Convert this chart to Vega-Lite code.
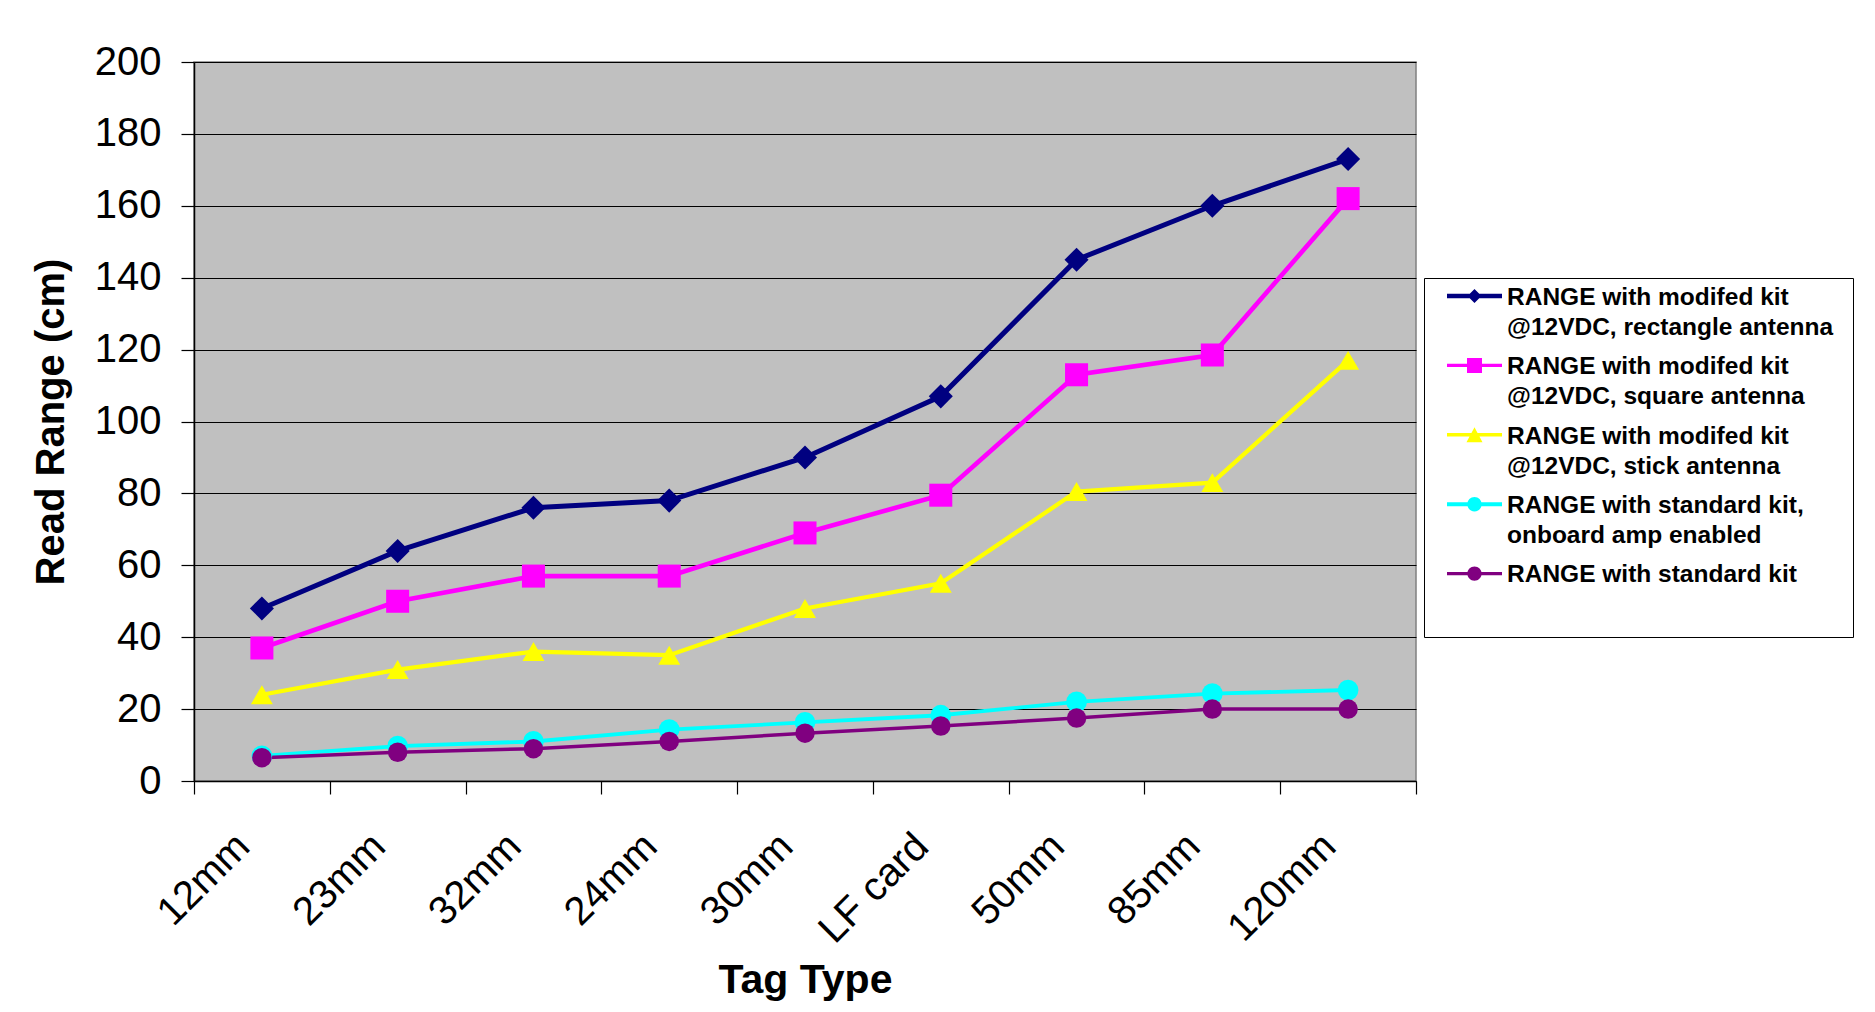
{
  "$schema": "https://vega.github.io/schema/vega-lite/v6.json",
  "width": 1222,
  "height": 719,
  "autosize": "none",
  "padding": {"left": 194, "top": 62, "right": 459, "bottom": 231},
  "background": "white",
  "config": {
    "font": "Liberation Sans",
    "view": {"fill": "#C0C0C0", "stroke": "#808080", "strokeWidth": 1.5},
    "style": {"guide-label": {"lineHeight": 30}}
  },
  "data": {
    "values": [
      {"tag": "12mm", "series": "RANGE with modifed kit\n@12VDC, rectangle antenna", "value": 48},
      {"tag": "23mm", "series": "RANGE with modifed kit\n@12VDC, rectangle antenna", "value": 64},
      {"tag": "32mm", "series": "RANGE with modifed kit\n@12VDC, rectangle antenna", "value": 76},
      {"tag": "24mm", "series": "RANGE with modifed kit\n@12VDC, rectangle antenna", "value": 78},
      {"tag": "30mm", "series": "RANGE with modifed kit\n@12VDC, rectangle antenna", "value": 90},
      {"tag": "LF card", "series": "RANGE with modifed kit\n@12VDC, rectangle antenna", "value": 107},
      {"tag": "50mm", "series": "RANGE with modifed kit\n@12VDC, rectangle antenna", "value": 145},
      {"tag": "85mm", "series": "RANGE with modifed kit\n@12VDC, rectangle antenna", "value": 160},
      {"tag": "120mm", "series": "RANGE with modifed kit\n@12VDC, rectangle antenna", "value": 173},
      {"tag": "12mm", "series": "RANGE with modifed kit\n@12VDC, square antenna", "value": 37},
      {"tag": "23mm", "series": "RANGE with modifed kit\n@12VDC, square antenna", "value": 50},
      {"tag": "32mm", "series": "RANGE with modifed kit\n@12VDC, square antenna", "value": 57},
      {"tag": "24mm", "series": "RANGE with modifed kit\n@12VDC, square antenna", "value": 57},
      {"tag": "30mm", "series": "RANGE with modifed kit\n@12VDC, square antenna", "value": 69},
      {"tag": "LF card", "series": "RANGE with modifed kit\n@12VDC, square antenna", "value": 79.5},
      {"tag": "50mm", "series": "RANGE with modifed kit\n@12VDC, square antenna", "value": 113},
      {"tag": "85mm", "series": "RANGE with modifed kit\n@12VDC, square antenna", "value": 118.5},
      {"tag": "120mm", "series": "RANGE with modifed kit\n@12VDC, square antenna", "value": 162},
      {"tag": "12mm", "series": "RANGE with modifed kit\n@12VDC, stick antenna", "value": 24},
      {"tag": "23mm", "series": "RANGE with modifed kit\n@12VDC, stick antenna", "value": 31},
      {"tag": "32mm", "series": "RANGE with modifed kit\n@12VDC, stick antenna", "value": 36},
      {"tag": "24mm", "series": "RANGE with modifed kit\n@12VDC, stick antenna", "value": 35},
      {"tag": "30mm", "series": "RANGE with modifed kit\n@12VDC, stick antenna", "value": 48},
      {"tag": "LF card", "series": "RANGE with modifed kit\n@12VDC, stick antenna", "value": 55},
      {"tag": "50mm", "series": "RANGE with modifed kit\n@12VDC, stick antenna", "value": 80.5},
      {"tag": "85mm", "series": "RANGE with modifed kit\n@12VDC, stick antenna", "value": 83},
      {"tag": "120mm", "series": "RANGE with modifed kit\n@12VDC, stick antenna", "value": 117},
      {"tag": "12mm", "series": "RANGE with standard kit,\nonboard amp enabled", "value": 7},
      {"tag": "23mm", "series": "RANGE with standard kit,\nonboard amp enabled", "value": 9.7},
      {"tag": "32mm", "series": "RANGE with standard kit,\nonboard amp enabled", "value": 11},
      {"tag": "24mm", "series": "RANGE with standard kit,\nonboard amp enabled", "value": 14.3},
      {"tag": "30mm", "series": "RANGE with standard kit,\nonboard amp enabled", "value": 16.3},
      {"tag": "LF card", "series": "RANGE with standard kit,\nonboard amp enabled", "value": 18.3},
      {"tag": "50mm", "series": "RANGE with standard kit,\nonboard amp enabled", "value": 22},
      {"tag": "85mm", "series": "RANGE with standard kit,\nonboard amp enabled", "value": 24.3},
      {"tag": "120mm", "series": "RANGE with standard kit,\nonboard amp enabled", "value": 25.3},
      {"tag": "12mm", "series": "RANGE with standard kit", "value": 6.5},
      {"tag": "23mm", "series": "RANGE with standard kit", "value": 8},
      {"tag": "32mm", "series": "RANGE with standard kit", "value": 9},
      {"tag": "24mm", "series": "RANGE with standard kit", "value": 11},
      {"tag": "30mm", "series": "RANGE with standard kit", "value": 13.3},
      {"tag": "LF card", "series": "RANGE with standard kit", "value": 15.3},
      {"tag": "50mm", "series": "RANGE with standard kit", "value": 17.5},
      {"tag": "85mm", "series": "RANGE with standard kit", "value": 20},
      {"tag": "120mm", "series": "RANGE with standard kit", "value": 20}
    ]
  },
  "encoding": {
    "x": {
      "field": "tag",
      "type": "nominal",
      "sort": ["12mm", "23mm", "32mm", "24mm", "30mm", "LF card", "50mm", "85mm", "120mm"],
      "scale": {"type": "band", "paddingInner": 0, "paddingOuter": 0},
      "axis": {
        "title": "Tag Type",
        "titleFont": "Liberation Sans",
        "titleFontSize": 41,
        "titleFontWeight": "bold",
        "titleColor": "black",
        "titleBaseline": "alphabetic",
        "titleY": 211,
        "labelFont": "Liberation Sans",
        "labelFontSize": 40,
        "labelColor": "black",
        "labelAngle": -45,
        "labelAlign": "right",
        "labelBaseline": "middle",
        "labelPadding": 46,
        "labelOffset": -19,
        "tickBand": "extent",
        "tickSize": 13,
        "tickColor": "black",
        "tickWidth": 1.2,
        "domainColor": "black",
        "domainWidth": 1.5,
        "grid": false
      }
    },
    "y": {
      "field": "value",
      "type": "quantitative",
      "scale": {"domain": [0, 200], "nice": false},
      "axis": {
        "title": "Read Range (cm)",
        "titleFont": "Liberation Sans",
        "titleFontSize": 40,
        "titleFontWeight": "bold",
        "titleColor": "black",
        "titleAngle": -90,
        "titleBaseline": "alphabetic",
        "titleAlign": "center",
        "titleX": -131,
        "titleY": 359.5,
        "values": [0, 20, 40, 60, 80, 100, 120, 140, 160, 180, 200],
        "labelFont": "Liberation Sans",
        "labelFontSize": 40,
        "labelColor": "black",
        "labelPadding": 20,
        "tickSize": 13,
        "tickColor": "black",
        "tickWidth": 1.2,
        "domainColor": "black",
        "domainWidth": 1.5,
        "grid": true,
        "gridColor": "black",
        "gridWidth": 1.2,
        "gridOpacity": 1
      }
    }
  },
  "layer": [
    {
      "mark": {"type": "line"},
      "encoding": {
        "color": {
          "field": "series",
          "type": "nominal",
          "scale": {
            "domain": [
              "RANGE with modifed kit\n@12VDC, rectangle antenna",
              "RANGE with modifed kit\n@12VDC, square antenna",
              "RANGE with modifed kit\n@12VDC, stick antenna",
              "RANGE with standard kit,\nonboard amp enabled",
              "RANGE with standard kit"
            ],
            "range": ["#000080", "#FF00FF", "#FFFF00", "#00FFFF", "#800080"]
          },
          "legend": null
        },
        "strokeWidth": {
          "field": "series",
          "type": "nominal",
          "scale": {
            "domain": [
              "RANGE with modifed kit\n@12VDC, rectangle antenna",
              "RANGE with modifed kit\n@12VDC, square antenna",
              "RANGE with modifed kit\n@12VDC, stick antenna",
              "RANGE with standard kit,\nonboard amp enabled",
              "RANGE with standard kit"
            ],
            "range": [5, 3.5, 3.8, 4.5, 3.5]
          },
          "legend": null
        }
      }
    },
    {
      "mark": {"type": "point", "filled": true, "opacity": 1},
      "encoding": {
        "color": {"field": "series", "type": "nominal", "legend": null},
        "shape": {
          "field": "series",
          "type": "nominal",
          "scale": {
            "domain": [
              "RANGE with modifed kit\n@12VDC, rectangle antenna",
              "RANGE with modifed kit\n@12VDC, square antenna",
              "RANGE with modifed kit\n@12VDC, stick antenna",
              "RANGE with standard kit,\nonboard amp enabled",
              "RANGE with standard kit"
            ],
            "range": ["diamond", "square", "triangle-up", "circle", "circle"]
          },
          "legend": null
        },
        "size": {
          "field": "series",
          "type": "nominal",
          "scale": {
            "domain": [
              "RANGE with modifed kit\n@12VDC, rectangle antenna",
              "RANGE with modifed kit\n@12VDC, square antenna",
              "RANGE with modifed kit\n@12VDC, stick antenna",
              "RANGE with standard kit,\nonboard amp enabled",
              "RANGE with standard kit"
            ],
            "range": [580, 380, 520, 470, 470]
          },
          "legend": null
        }
      }
    },
    {
      "mark": {"type": "point", "filled": true, "opacity": 0, "size": 36},
      "encoding": {
        "color": {
          "field": "series",
          "type": "nominal",
          "legend": {
            "title": null,
            "orient": "none",
            "legendX": 1230,
            "legendY": 216,
            "strokeColor": "black",
            "fillColor": "white",
            "padding": 19.5,
            "labelFont": "Liberation Sans",
            "labelFontSize": 24.5,
            "labelFontWeight": "bold",
            "labelColor": "black",
            "labelLimit": 600,
            "labelOffset": 39,
            "labelBaseline": "bottom",
            "labelExpr": "datum.label == 'RANGE with standard kit' ? ['RANGE with standard kit', ' '] : split(datum.label, '\\n')",
            "symbolSize": 36,
            "symbolOpacity": 1,
            "symbolStrokeWidth": 0,
            "rowPadding": 14.4
          }
        },
        "shape": {
          "field": "series",
          "type": "nominal",
          "scale": {
            "domain": [
              "RANGE with modifed kit\n@12VDC, rectangle antenna",
              "RANGE with modifed kit\n@12VDC, square antenna",
              "RANGE with modifed kit\n@12VDC, stick antenna",
              "RANGE with standard kit,\nonboard amp enabled",
              "RANGE with standard kit"
            ],
            "range": [
              "M-2.917,-5.357H15.417V-3.823H-2.917Z M6.25,-6.923L8.583,-4.59L6.25,-2.257L3.917,-4.59Z",
              "M-2.917,-5.157H15.417V-4.023H-2.917Z M3.75,-7.09H8.75V-2.09H3.75Z",
              "M-2.917,-5.19H15.417V-3.99H-2.917Z M6.25,-7.09L8.917,-2.09H3.583Z",
              "M-2.917,-5.257H15.417V-3.923H-2.917Z M3.85,-4.59A2.4,2.4 0 1,1 8.65,-4.59A2.4,2.4 0 1,1 3.85,-4.59Z",
              "M-2.917,-5.157H15.417V-4.023H-2.917Z M3.85,-4.59A2.4,2.4 0 1,1 8.65,-4.59A2.4,2.4 0 1,1 3.85,-4.59Z"
            ]
          },
          "legend": {
            "title": null,
            "orient": "none",
            "legendX": 1230,
            "legendY": 216,
            "strokeColor": "black",
            "fillColor": "white",
            "padding": 19.5,
            "labelFont": "Liberation Sans",
            "labelFontSize": 24.5,
            "labelFontWeight": "bold",
            "labelColor": "black",
            "labelLimit": 600,
            "labelOffset": 39,
            "labelBaseline": "bottom",
            "labelExpr": "datum.label == 'RANGE with standard kit' ? ['RANGE with standard kit', ' '] : split(datum.label, '\\n')",
            "symbolSize": 36,
            "symbolOpacity": 1,
            "symbolStrokeWidth": 0,
            "rowPadding": 14.4
          }
        }
      }
    }
  ],
  "resolve": {
    "scale": {"shape": "independent", "size": "independent"},
    "legend": {"color": "independent", "shape": "independent"}
  }
}
